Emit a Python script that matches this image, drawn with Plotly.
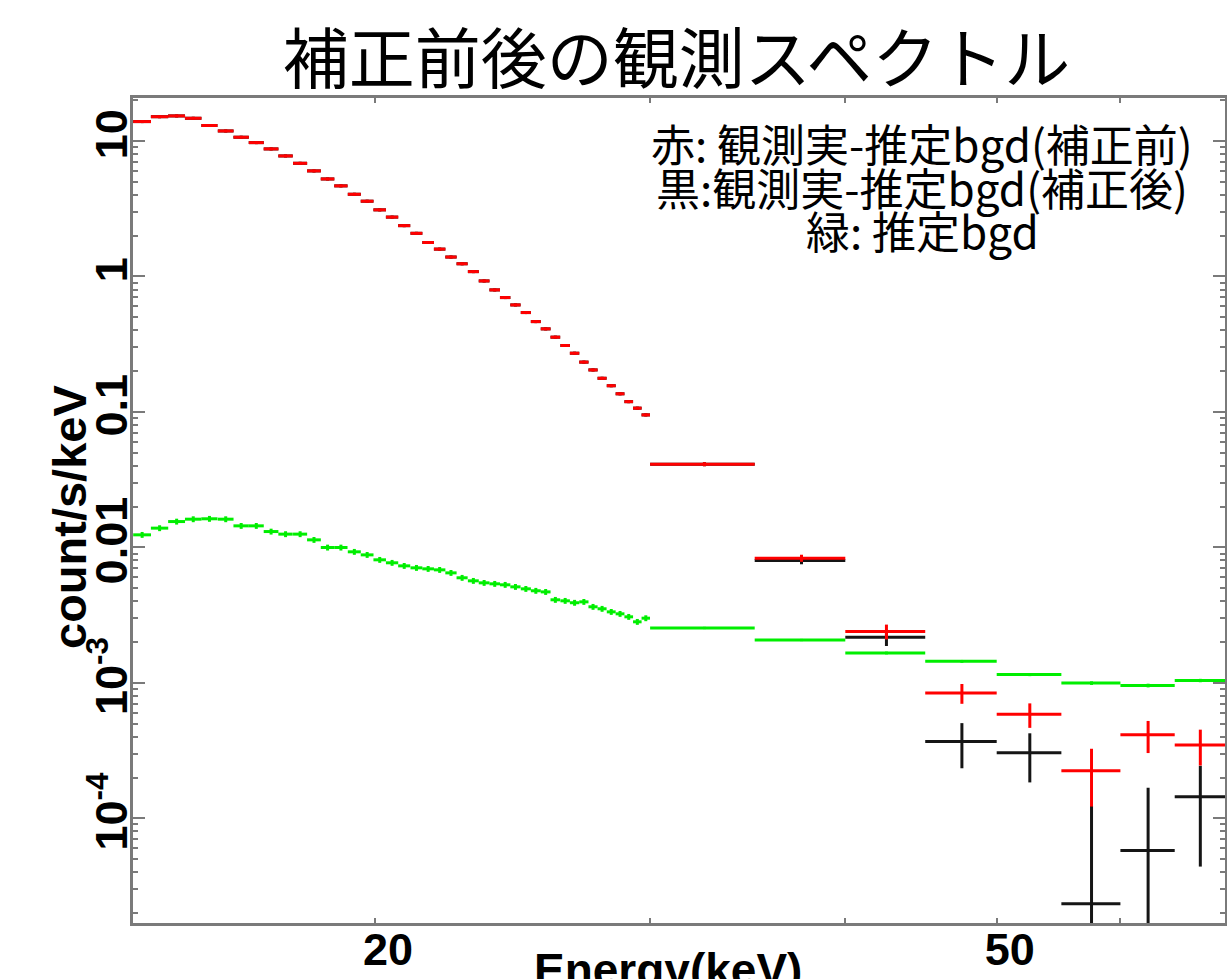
import math
import plotly.graph_objects as go

# ---------------- data ----------------
# fine energy bins 14-30 keV (bin centres, keV) and half bin width
fine_energy = [14.19, 14.56, 14.93, 15.30, 15.67, 16.05, 16.42, 16.79, 17.16, 17.53,
               17.91, 18.28, 18.65, 19.02, 19.40, 19.77, 20.14, 20.51, 20.88, 21.26,
               21.63, 22.00, 22.37, 22.74, 23.12, 23.49, 23.86, 24.23, 24.60, 24.98,
               25.35, 25.72, 26.09, 26.47, 26.84, 27.21, 27.58, 27.95, 28.33, 28.70,
               29.07, 29.44, 29.81]
fine_halfwidth = 0.186

# red: observed - estimated bgd (before correction)
red_fine = [13.9, 15.1, 15.3, 14.7, 13.0, 11.85, 10.65, 9.72, 8.73, 7.75,
            6.84, 6.01, 5.24, 4.66, 4.04, 3.59, 3.10, 2.74, 2.37, 2.08,
            1.78, 1.59, 1.39, 1.24, 1.085, 0.926, 0.795, 0.698, 0.616, 0.541,
            0.464, 0.410, 0.356, 0.309, 0.271, 0.233, 0.204, 0.177, 0.156, 0.136,
            0.119, 0.1065, 0.095]
# black: observed - estimated bgd (after correction) -- hidden under red at low energy
black_fine = [13.9, 15.1, 15.3, 14.7, 13.0, 11.85, 10.65, 9.72, 8.73, 7.75,
              6.84, 6.01, 5.24, 4.66, 4.04, 3.59, 3.10, 2.74, 2.37, 2.08,
              1.78, 1.59, 1.39, 1.24, 1.085, 0.926, 0.795, 0.698, 0.616, 0.541,
              0.464, 0.410, 0.356, 0.309, 0.271, 0.233, 0.204, 0.177, 0.156, 0.136,
              0.119, 0.1065, 0.095]
# green: estimated bgd
green_fine = [0.01237, 0.01386, 0.01550, 0.01614, 0.01625, 0.01614, 0.01441, 0.01441, 0.01308, 0.01252,
              0.01252, 0.01136, 0.00997, 0.00997, 0.00927, 0.00880, 0.00809, 0.00769, 0.00730, 0.00706,
              0.00694, 0.00682, 0.00648, 0.00596, 0.00566, 0.00547, 0.00538, 0.00529, 0.00511, 0.00494,
              0.00478, 0.00469, 0.00410, 0.00403, 0.00390, 0.00396, 0.00364, 0.00352, 0.00334, 0.00323,
              0.00307, 0.00282, 0.00300]
red_fine_err_pct = 2.5
black_fine_err_pct = 2.5
green_fine_err_pct = 5.0

# wide energy bins 30-70 keV
wide_energy = [32.5, 37.5, 42.5, 47.5, 52.5, 57.5, 62.5, 67.5]
wide_halfwidth = 2.5
red_wide = [0.0411, 0.00832, 0.00239, 8.4e-4, 5.85e-4, 2.24e-4, 4.13e-4, 3.48e-4]
red_wide_err = [1.4e-3, 5e-4, 3e-4, 1.4e-4, 1.2e-4, 1.02e-4, 1.1e-4, 1.03e-4]
black_wide = [0.0411, 0.0080, 0.00217, 3.69e-4, 3.04e-4, 2.34e-5, 5.78e-5, 1.44e-4]
black_wide_err = [1.4e-3, 5e-4, 3e-4, 1.35e-4, 1.2e-4, 1.0e-4, 1.1e-4, 1.0e-4]
green_wide = [2.54e-3, 2.07e-3, 1.66e-3, 1.44e-3, 1.15e-3, 9.95e-4, 9.55e-4, 1.04e-3]
green_wide_err = [5e-5, 4e-5, 4e-5, 3.5e-5, 3e-5, 3e-5, 3e-5, 3e-5]

x_tickvals = [20, 30, 40, 50, 60]
x_ticktext = ["20", "", "", "50", ""]
y_tickvals = [1e-4, 1e-3, 1e-2, 1e-1, 1, 10]
y_ticktext = ["10<sup>-4</sup>", "10<sup>-3</sup>", "0.01", "0.1", "1", "10"]

title_text = "補正前後の観測スペクトル"
legend_lines = ["赤: 観測実-推定bgd(補正前)", "黒:観測実-推定bgd(補正後)", "緑: 推定bgd"]
x_title = "Energy(keV)"
y_title = "count/s/keV"

# ---------------- figure ----------------
RED = "#ff0000"
BLACK = "#151515"
GREEN = "#00ee00"
LW = 3


def fine_trace(y, color, pct):
    return go.Scatter(
        x=fine_energy, y=y, mode="markers",
        marker=dict(size=1, color=color),
        error_x=dict(type="constant", value=fine_halfwidth, color=color, thickness=LW, width=0),
        error_y=dict(type="percent", value=pct, color=color, thickness=LW, width=0),
        showlegend=False, hoverinfo="skip",
    )


def wide_trace(y, err, color):
    return go.Scatter(
        x=wide_energy, y=y, mode="markers",
        marker=dict(size=1, color=color),
        error_x=dict(type="constant", value=wide_halfwidth, color=color, thickness=LW, width=0),
        error_y=dict(type="data", array=err, symmetric=True, color=color, thickness=LW, width=0),
        showlegend=False, hoverinfo="skip",
    )


fig = go.Figure()
fig.add_trace(fine_trace(green_fine, GREEN, green_fine_err_pct))
fig.add_trace(wide_trace(green_wide, green_wide_err, GREEN))
fig.add_trace(fine_trace(black_fine, BLACK, black_fine_err_pct))
fig.add_trace(wide_trace(black_wide, black_wide_err, BLACK))
fig.add_trace(fine_trace(red_fine, RED, red_fine_err_pct))
fig.add_trace(wide_trace(red_wide, red_wide_err, RED))

# minor tick positions on the log y axis
y_minor = []
for dec in range(-5, 2):
    for d in range(2, 10):
        v = d * 10 ** dec
        if 1.6e-5 < v < 21:
            y_minor.append(v)

AXCOL = "#7a7a7a"
TICKFONT = dict(family="Liberation Sans", size=45, color="black", weight="bold")

W, H = 1227, 979
ML, MR, MT, MB = 133, 2, 98, 56
PW, PH = W - ML - MR, H - MT - MB

fig.update_layout(
    width=W, height=H,
    margin=dict(l=ML, r=MR, t=MT, b=MB, autoexpand=False),
    paper_bgcolor="white", plot_bgcolor="white",
    title=dict(text=title_text, x=676.5 / W, xref="container", xanchor="center",
               y=1 - 60 / H, yref="container", yanchor="middle",
               font=dict(family="Noto Sans CJK JP", size=66, color="black")),
    xaxis=dict(type="log", range=[math.log10(14), math.log10(70)],
               tickmode="array", tickvals=x_tickvals, ticktext=x_ticktext,
               ticks="inside", ticklen=5, tickwidth=2, tickcolor=AXCOL,
               showline=True, linecolor=AXCOL, linewidth=3, mirror="ticks",
               showgrid=False, zeroline=False, tickfont=TICKFONT,
               ticklabelshift=13, ticklabelstandoff=-15, automargin=False),
    yaxis=dict(type="log", range=[-4.773, 1.317],
               tickmode="array", tickvals=y_tickvals, ticktext=y_ticktext,
               tickangle=-90,
               ticks="inside", ticklen=12, tickwidth=2, tickcolor=AXCOL,
               minor=dict(tickmode="array", tickvals=y_minor, ticks="inside",
                          ticklen=5, tickwidth=2, tickcolor=AXCOL),
               showline=True, linecolor=AXCOL, linewidth=3, mirror="ticks",
               showgrid=False, zeroline=False, tickfont=TICKFONT,
               ticklabelstandoff=-15, automargin=False),
)

# axis titles
fig.add_annotation(text=x_title, xref="paper", yref="paper",
                   x=(667.5 - ML) / PW, y=(MT + PH - 942) / PH,
                   xanchor="center", yanchor="top", showarrow=False,
                   font=dict(family="Liberation Sans", size=46, color="black", weight="bold"))
fig.add_annotation(text=y_title, xref="paper", yref="paper",
                   x=(69.5 - ML) / PW, y=(MT + PH - 517.5) / PH,
                   xanchor="center", yanchor="middle", textangle=-90, showarrow=False,
                   font=dict(family="Liberation Sans", size=47, color="black", weight="bold"))

# legend text lines (top right)
legend_y = [143, 187, 230]
for txt, yc in zip(legend_lines, legend_y):
    fig.add_annotation(text=txt, xref="paper", yref="paper",
                       x=(922 - ML) / PW, y=(MT + PH - yc) / PH,
                       xanchor="center", yanchor="middle", showarrow=False,
                       font=dict(family="Noto Sans CJK JP", size=44, color="black"))

fig.write_html("out.html")
